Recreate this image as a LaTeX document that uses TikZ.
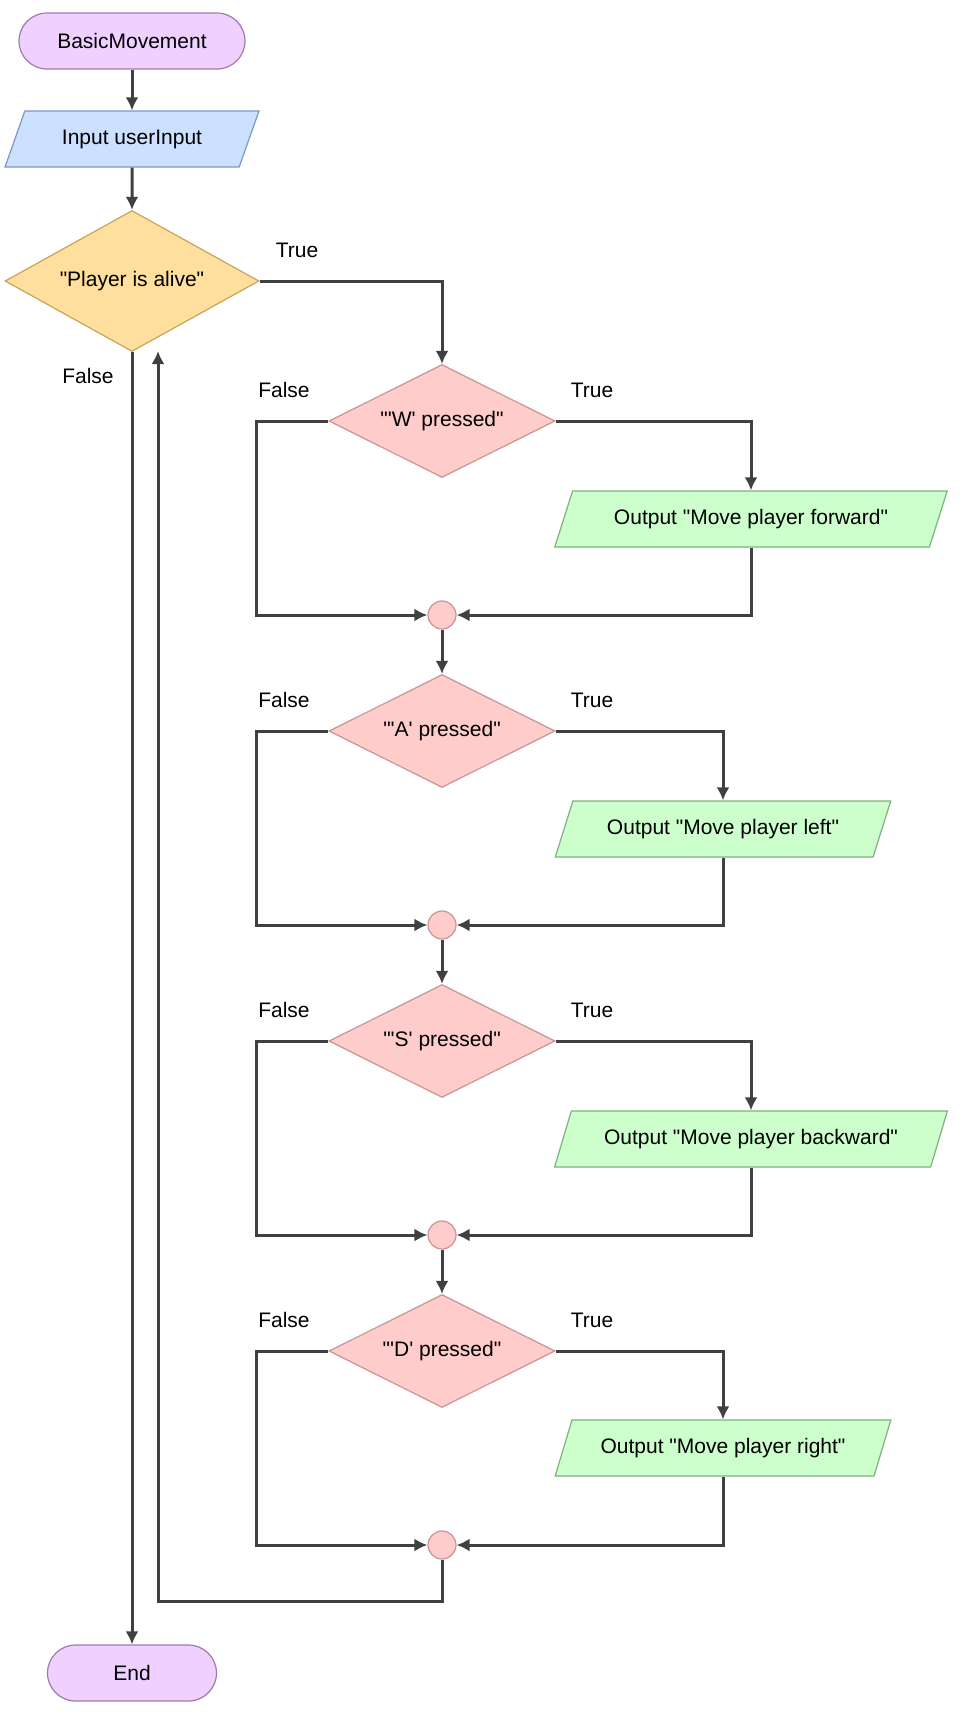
\documentclass[tikz,border=0pt]{standalone}
\usepackage{fontspec}
\newfontfamily\lsans{Liberation Sans}
\usetikzlibrary{shapes.geometric,arrows.meta}
\definecolor{termfill}{HTML}{F0D0FF}
\definecolor{termdraw}{HTML}{9C7CAC}
\definecolor{infill}{HTML}{CCE0FF}
\definecolor{indraw}{HTML}{7C98C4}
\definecolor{aliveFill}{HTML}{FFDF9E}
\definecolor{aliveDraw}{HTML}{C8A45A}
\definecolor{decfill}{HTML}{FFCCCC}
\definecolor{decdraw}{HTML}{C89494}
\definecolor{outfill}{HTML}{CCFFCC}
\definecolor{outdraw}{HTML}{80B080}
\definecolor{linec}{HTML}{404040}
\begin{document}
\begin{tikzpicture}[x=0.5pt,y=-0.5pt,
  txt/.style={font=\lsans\fontsize{10.5}{12}\selectfont, text=black},
  term/.style={txt, rectangle, rounded corners=14pt, minimum height=28pt, fill=termfill, draw=termdraw, line width=0.6pt},
  io/.style={txt, trapezium, trapezium left angle=63, trapezium right angle=117, trapezium stretches=true, minimum height=28pt, line width=0.6pt, inner sep=2pt},
  inbox/.style={io, fill=infill, draw=indraw},
  outbox/.style={io, fill=outfill, draw=outdraw},
  alive/.style={txt, diamond, shape aspect=2, minimum width=127pt, minimum height=70.5pt, inner sep=0pt, fill=aliveFill, draw=aliveDraw, line width=0.6pt},
  dec/.style={txt, diamond, shape aspect=2, minimum width=113pt, minimum height=56.5pt, inner sep=0pt, fill=decfill, draw=decdraw, line width=0.6pt},
  joinpt/.style={circle, minimum size=14pt, inner sep=0pt, fill=decfill, draw=decdraw, line width=0.6pt},
  flow/.style={draw=linec, line width=1.5pt, -{Latex[length=6.5pt,width=6.5pt]}},
  lab/.style={txt}
]
\useasboundingbox (0,0) rectangle (962,1720);

\node[term, minimum width=113pt] (start) at (132,41) {BasicMovement};
\node[inbox, minimum width=127pt] (input) at (132,139) {Input userInput};
\node[alive] (alive) at (132,281) {"Player is alive"};
\node[term, minimum width=84.5pt] (end) at (132,1673) {End};

\node[dec] (dW) at (442,421) {"'W' pressed"};
\node[dec] (dA) at (442,731) {"'A' pressed"};
\node[dec] (dS) at (442,1041) {"'S' pressed"};
\node[dec] (dD) at (442,1351) {"'D' pressed"};

\node[outbox, minimum width=196.5pt] (oW) at (751,519) {Output "Move player forward"};
\node[outbox, minimum width=168pt] (oA) at (723,829) {Output "Move player left"};
\node[outbox, minimum width=196.5pt] (oS) at (751,1139) {Output "Move player backward"};
\node[outbox, minimum width=168pt] (oD) at (723,1448) {Output "Move player right"};

\node[joinpt] (cW) at (442,615) {};
\node[joinpt] (cA) at (442,925) {};
\node[joinpt] (cS) at (442,1235) {};
\node[joinpt] (cD) at (442,1545) {};

\coordinate (lW) at (256,615);
\coordinate (lA) at (256,925);
\coordinate (lS) at (256,1235);
\coordinate (lD) at (256,1545);
\coordinate (r1) at (158,1601);
\coordinate (r2) at (158,351);

% labels
\node[lab] (tAlive) at (297,250) {True};
\node[lab] (fAlive) at (88,376) {False};
\node[lab] (fW) at (284,390) {False};
\node[lab] (tW) at (592,390) {True};
\node[lab] (fA) at (284,700) {False};
\node[lab] (tA) at (592,700) {True};
\node[lab] (fS) at (284,1010) {False};
\node[lab] (tS) at (592,1010) {True};
\node[lab] (fD) at (284,1320) {False};
\node[lab] (tD) at (592,1320) {True};

% connectors
\draw[flow] (start) -- (input);
\draw[flow] (input) -- (alive);
\draw[flow] (alive.south) -- (end.north);
\draw[flow] (alive.east) -| (dW.north);

\foreach \d/\o/\c/\l in {dW/oW/cW/lW, dA/oA/cA/lA, dS/oS/cS/lS, dD/oD/cD/lD}{
  \draw[flow] (\d.east) -| (\o.center |- \o.north);
  \draw[flow] (\o.center |- \o.south) |- (\c.east);
  \draw[flow] (\d.west) -| (\l) -- (\c.west);
}
\draw[flow] (cW.south) -- (dA.north);
\draw[flow] (cA.south) -- (dS.north);
\draw[flow] (cS.south) -- (dD.north);
\draw[flow] (cD.south) |- (r1) -- (r2);
\end{tikzpicture}
\end{document}
